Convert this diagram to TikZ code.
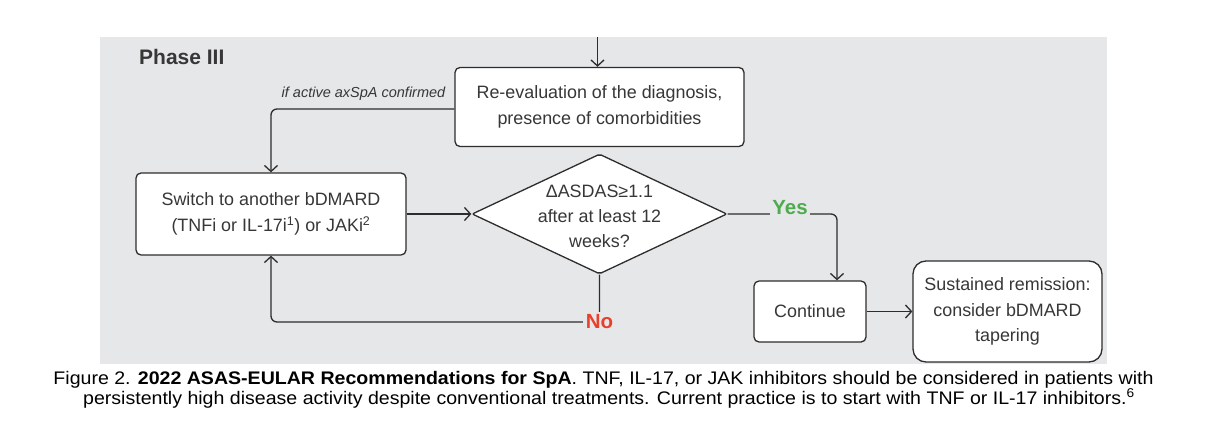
\documentclass[tikz,border=0pt]{standalone}
\usepackage{fontspec}
\setmainfont{Liberation Sans}
\newfontfamily\capfont[FakeStretch=1.075]{Liberation Sans}
\usetikzlibrary{shapes.geometric,arrows.meta}
\definecolor{bggray}{RGB}{230,231,233}
\definecolor{linegray}{RGB}{45,45,45}
\definecolor{txtgray}{RGB}{55,55,55}
\definecolor{nored}{RGB}{232,64,44}
\definecolor{yesgreen}{RGB}{78,172,78}
\begin{document}
\begin{tikzpicture}[x=1pt,y=-1pt,
  box/.style={draw=linegray, line width=1.3pt, fill=white, rounded corners=5pt, align=center,
    text=txtgray, font=\fontsize{17.9}{25.5}\selectfont, inner sep=0pt},
  conn/.style={draw=linegray, line width=1.3pt, -{Straight Barb[length=6pt,width=13pt,line width=1.3pt]}},
  lbl/.style={fill=bggray, inner sep=2pt, font=\bfseries\fontsize{20.5}{24}\selectfont},
  captxt/.style={anchor=base, inner sep=0pt, font=\capfont\fontsize{18.2}{20}\selectfont, text=black}]
\useasboundingbox (0,0) rectangle (1219,444);
\fill[white] (0,0) rectangle (1219,444);
\fill[bggray] (100,37) rectangle (1107,364);

\node[anchor=base west, inner sep=0pt, text=txtgray, font=\bfseries\fontsize{21}{24}\selectfont] (phase) at (139,65) {Phase III};

\node[box, minimum width=289pt, minimum height=79pt] (re) at (599.5,107)
  {Re-evaluation of the diagnosis,\\presence of comorbidities};
\node[box, minimum width=270pt, minimum height=82pt] (sw) at (271,214)
  {Switch to another bDMARD\\(TNFi or IL-17i\textsuperscript{1}) or JAKi\textsuperscript{2}};
\node[diamond, draw=linegray, line width=1.3pt, fill=white, rounded corners=2pt,
  minimum width=255pt, minimum height=120pt, inner sep=0pt] (dia) at (599.5,214) {};
\node[align=center, text=txtgray, font=\fontsize{17.9}{25}\selectfont, inner sep=0pt] (diat) at (599.5,216)
  {ΔASDAS≥1.1\\after at least 12\\weeks?};
\node[box, minimum width=112pt, minimum height=61pt] (co) at (810,311.5) {Continue};
\node[box, rounded corners=13pt, minimum width=189pt, minimum height=101pt] (su) at (1007.5,311.5)
  {Sustained remission:\\consider bDMARD\\tapering};

\coordinate (topin) at (597.5,37);
\coordinate (nocorner) at (599.5,322);
\coordinate (yescorner) at (837,211);

\draw[conn] (topin) -- (topin |- re.north);
\draw[conn, rounded corners=6pt] (re.west |- 0,109) -| (sw.north);
\node[anchor=base, inner sep=0pt, text=txtgray, font=\itshape\fontsize{14.5}{16}\selectfont] (ifact) at (363.5,97)
  {if active axSpA confirmed};
\draw[conn] (sw.east) -- (dia.west);
\draw[conn, rounded corners=6pt] (dia.east) -| (yescorner |- co.north);
\node[lbl, text=yesgreen] (yes) at (790,208) {Yes};
\draw[conn, rounded corners=6pt] (dia.south) -- (nocorner) -| (sw.south);
\node[lbl, text=nored, inner sep=3pt] (no) at (nocorner) {No};
\draw[conn] (co.east) -- (su.west);

\node[captxt] (cap1) at (603.5,384) {Figure 2. \textbf{2022 ASAS-EULAR Recommendations for SpA}. TNF, IL-17, or JAK inhibitors should be considered in patients with};
\node[captxt] (cap2) at (609,404) {persistently high disease activity despite conventional treatments. Current practice is to start with TNF or IL-17 inhibitors.\textsuperscript{6}};
\end{tikzpicture}
\end{document}
